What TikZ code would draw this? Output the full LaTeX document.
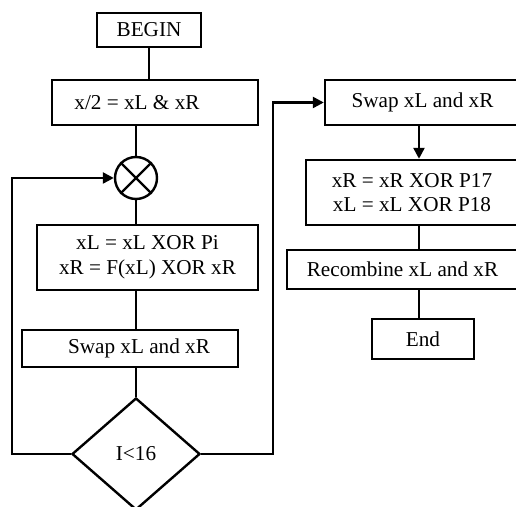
\documentclass[tikz,border=0pt]{standalone}
\usepackage{fontspec}
\setmainfont{Liberation Serif}
\usetikzlibrary{shapes.geometric,arrows.meta}
\begin{document}
\begin{tikzpicture}[x=0.5pt,y=-0.5pt,line width=1.2pt,
  every node/.style={font=\fontsize{10.6}{12.4}\selectfont},
  procbox/.style={draw,rectangle,inner sep=0pt,align=center},
  >={Triangle[length=5.5pt,width=5.5pt]}]
\useasboundingbox (0,0) rectangle (516,507);
\clip (0,0) rectangle (516,507);
% left column: rounds
\node[procbox,minimum width=52pt,minimum height=17pt] (begin) at (149,30) {BEGIN};
\node[procbox,minimum width=103pt,minimum height=22.5pt] (split) at (155,102.5) {};
\node (splittext) at (137,102.5) {x/2 = xL \& xR};
\node[draw,circle,inner sep=0pt,minimum size=21pt] (xor) at (136,178) {};
\draw (xor.north west) -- (xor.south east);
\draw (xor.north east) -- (xor.south west);
\node[procbox,minimum width=110.5pt,minimum height=32.5pt] (round) at (147.5,257.5) {xL = xL XOR Pi\\ xR = F(xL) XOR xR};
\node[procbox,minimum width=108pt,minimum height=18.5pt] (swapL) at (130,348.5) {};
\node (swapLtext) at (139,348.5) {Swap xL and xR};
\node[draw,diamond,inner sep=0pt,minimum width=64pt,minimum height=56pt] (test) at (136,454) {I<16};
% right column: output
\node[procbox,minimum width=97.5pt,minimum height=22.5pt] (swapR) at (422.5,102.5) {Swap xL and xR};
\node[procbox,minimum width=106pt,minimum height=32.5pt] (final) at (412,192.5) {xR = xR XOR P17\\ xL = xL XOR P18};
\node[procbox,minimum width=115.5pt,minimum height=19.5pt] (recomb) at (402.5,269.5) {Recombine xL and xR};
\node[procbox,minimum width=51pt,minimum height=20pt] (end) at (423,339) {End};
\coordinate (axisR) at (419,0);
\coordinate (loopL) at (12,454);
\coordinate (loopR) at (273,454);
\draw (begin.south) -- (begin.south |- split.north);
\draw (xor.north |- split.south) -- (xor);
\draw (xor) -- (xor |- round.north);
\draw (xor |- round.south) -- (xor |- swapL.north);
\draw (xor |- swapL.south) -- (test);
\draw[->] (test.west) -- (loopL) |- (xor.west);
\draw[->] (test.east) -- (loopR) |- (swapR.west);
\draw[->] (axisR |- swapR.south) -- (axisR |- final.north);
\draw (axisR |- final.south) -- (axisR |- recomb.north);
\draw (axisR |- recomb.south) -- (axisR |- end.north);
\end{tikzpicture}
\end{document}
